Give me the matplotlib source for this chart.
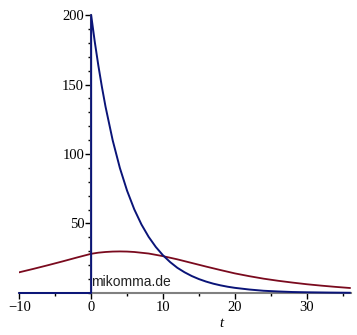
import numpy as np
import matplotlib.pyplot as plt
from matplotlib.ticker import MultipleLocator

# blue curve: zero for t<0, jumps to 200 at t=0, then decays
t_blue = [-10, 0, 0, 0.5, 1, 1.5, 2, 3, 4, 5, 6, 7, 8, 9, 10, 11, 12, 13, 14, 15,
          16, 17, 18, 19, 20, 22, 24, 26, 28, 30, 33, 36]
y_blue = [0, 0, 200, 180.9, 163.7, 148.2, 134.1, 109.8, 89.9, 73.6, 60.2, 49.3,
          40.4, 33.1, 27.1, 22.2, 18.1, 14.9, 12.2, 10.0, 8.2, 6.7, 5.5, 4.5, 3.7,
          2.5, 1.6, 1.1, 0.7, 0.5, 0.3, 0.15]

# red curve
t_red = [-10, -8, -6, -4, -2, 0, 1, 2, 3, 4, 5, 6, 8, 10, 12, 14, 16, 18, 20,
         22, 24, 26, 28, 30, 32, 34, 36]
y_red = [14.9, 17.4, 20.0, 22.7, 25.5, 28.2, 29.0, 29.5, 29.8, 29.9, 29.8, 29.5,
         28.4, 26.5, 24.2, 21.6, 19.0, 16.5, 14.1, 12.1, 10.3, 8.8, 7.5, 6.3, 5.3,
         4.4, 3.6]

x_ticks = [-10, 0, 10, 20, 30]
y_ticks = [50, 100, 150, 200]

fig = plt.figure(figsize=(3.57, 3.35), dpi=100)
ax = fig.add_axes([0.054, 0.1254, 0.928, 0.8298])

ax.plot(t_red, y_red, color='#7a0a1e', lw=1.3, zorder=3)
ax.plot(t_blue, y_blue, color='#0a1478', lw=1.4, zorder=4, clip_on=False)

ax.set_xlim(-10, 36.1)
ax.set_ylim(0, 200)

for s in ['top', 'right']:
    ax.spines[s].set_visible(False)
ax.spines['left'].set_position(('data', 0))
ax.spines['bottom'].set_position(('data', 0))
ax.spines['left'].set_color('#808080')
ax.spines['bottom'].set_color('#808080')
ax.spines['left'].set_linewidth(1.5)
ax.spines['bottom'].set_linewidth(1.5)

ax.set_xticks(x_ticks)
ax.set_yticks(y_ticks)
ax.xaxis.set_minor_locator(MultipleLocator(5))
ax.yaxis.set_minor_locator(MultipleLocator(10))
ax.tick_params(which='major', length=4, width=1, color='black', direction='out')
ax.tick_params(which='minor', length=2, width=1, color='black', direction='out')
ax.tick_params(axis='x', pad=2)
ax.tick_params(axis='y', pad=1)

labels = [str(v) if v >= 0 else '\u2212' + str(-v) for v in x_ticks]
ax.set_xticklabels(labels, family='Liberation Serif', fontsize=10.5)
ax.set_yticklabels([str(v) for v in y_ticks], family='Liberation Serif', fontsize=10.5)

ax.text(18.1, -21.6, 't', family='Liberation Serif', style='italic', fontsize=10.5,
        ha='center', va='center', clip_on=False)
ax.text(0, 8, 'mikomma.de', family='Liberation Sans', fontsize=10, color='#222222',
        ha='left', va='center', zorder=5)

fig.savefig('out.png', dpi=100)
